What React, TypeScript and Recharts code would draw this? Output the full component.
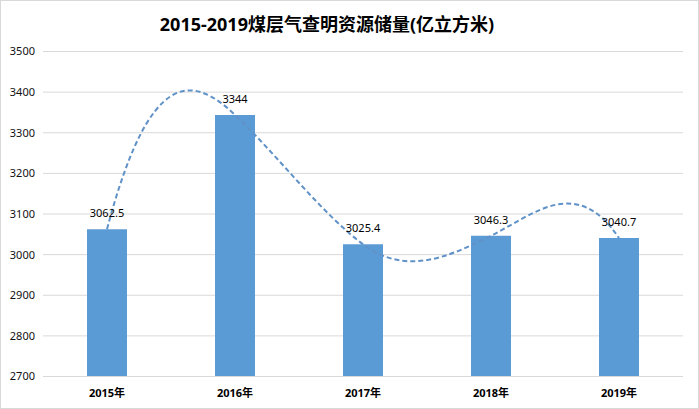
import React from 'react';
import { ComposedChart, Bar, Line, XAxis, YAxis, CartesianGrid, LabelList } from 'recharts';

const categories = ['2015年', '2016年', '2017年', '2018年', '2019年'];
const reserves = [3062.5, 3344, 3025.4, 3046.3, 3040.7];
const yTicks = [2700, 2800, 2900, 3000, 3100, 3200, 3300, 3400, 3500];

const data = categories.map((c, i) => ({ name: c, value: reserves[i] }));

// Curve style: tangent slopes (screen px/px) for the smoothed dashed line
const CURVE_SLOPES = [-3.8, 0.95, 0.75, -0.5, 1.5];

function smoothCurve(context: any) {
  let pts: number[][] = [];
  return {
    areaStart() {},
    areaEnd() {},
    lineStart() {
      pts = [];
    },
    point(x: number, y: number) {
      pts.push([+x, +y]);
    },
    lineEnd() {
      if (!pts.length) return;
      context.moveTo(pts[0][0], pts[0][1]);
      for (let i = 0; i < pts.length - 1; i++) {
        const [x0, y0] = pts[i];
        const [x1, y1] = pts[i + 1];
        const d = (x1 - x0) / 3;
        const s0 = CURVE_SLOPES[i] ?? 0;
        const s1 = CURVE_SLOPES[i + 1] ?? 0;
        context.bezierCurveTo(x0 + d, y0 + s0 * d, x1 - d, y1 - s1 * d, x1, y1);
      }
    },
  };
}

const FONT = '"Noto Sans", "Noto Sans CJK SC", sans-serif';

export default function App() {
  return (
    <div
      style={{
        position: 'fixed',
        left: 0,
        top: 0,
        width: 699,
        height: 409,
        background: '#fff',
        fontFamily: FONT,
      }}
    >
      <ComposedChart
        width={699}
        height={409}
        data={data}
        margin={{ top: 51.5, right: 16, bottom: 0, left: 0 }}
      >
        <CartesianGrid vertical={false} stroke="#d9d9d9" strokeWidth={1} />
        <XAxis
          dataKey="name"
          axisLine={{ stroke: '#d9d9d9' }}
          tickLine={false}
          tickMargin={7}
          height={32.5}
          interval={0}
          tick={{ fontSize: 11, fontWeight: 'bold', fill: '#000', fontFamily: FONT }}
        />
        <YAxis
          domain={[2700, 3500]}
          ticks={yTicks}
          interval={0}
          width={43}
          axisLine={false}
          tickLine={false}
          tick={{ fontSize: 11, fill: '#111', fontFamily: FONT }}
        />
        <Bar dataKey="value" fill="#5B9BD5" barSize={40} isAnimationActive={false}>
          <LabelList
            dataKey="value"
            position="top"
            offset={12}
            style={{ fontSize: 11, fill: '#000', fontFamily: FONT }}
          />
        </Bar>
        <Line
          dataKey="value"
          type={smoothCurve as any}
          stroke="#6092c8"
          strokeWidth={2}
          strokeDasharray="5 3"
          dot={false}
          activeDot={false}
          isAnimationActive={false}
        />
      </ComposedChart>
      <svg
        width={699}
        height={409}
        style={{ position: 'absolute', left: 0, top: 0, pointerEvents: 'none' }}
      >
        <rect x={0.5} y={0.5} width={698} height={408} fill="none" stroke="#d9d9d9" />
        <text
          x={327}
          y={31}
          textAnchor="middle"
          style={{ fontSize: 18, fontWeight: 'bold', fill: '#000', fontFamily: FONT }}
        >
          2015-2019煤层气查明资源储量(亿立方米)
        </text>
      </svg>
    </div>
  );
}
